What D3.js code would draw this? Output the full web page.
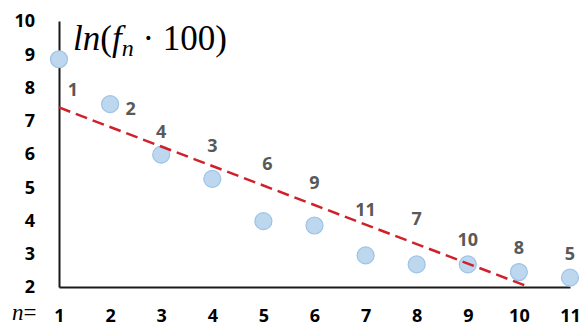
<!DOCTYPE html>
<html>
<head>
<meta charset="utf-8">
<script src="https://cdn.jsdelivr.net/npm/d3@7"></script>
<style>
  body { margin: 0; background: #fff; }
  svg { display: block; }
</style>
</head>
<body>
<script>
// data
var nValues = [1, 2, 3, 4, 5, 6, 7, 8, 9, 10, 11];
var lnValues = [8.85, 7.5, 5.98, 5.25, 3.98, 3.85, 2.95, 2.68, 2.68, 2.45, 2.28];
var rankLabels = ["1", "2", "4", "3", "6", "9", "11", "7", "10", "8", "5"];
var labelN = [1.27, 2.4, 3, 4, 5.08, 6, 7, 8, 9, 10, 11];
var labelLevel = [7.93, 7.37, 6.66, 6.24, 5.7, 5.14, 4.32, 4.06, 3.41, 3.17, 2.99];
var trendN = [1, 10.2];
var trendLn = [7.4, 2];
var yTicks = [2, 3, 4, 5, 6, 7, 8, 9, 10];

var width = 583, height = 326;

var svg = d3.select("body")
    .append("svg")
    .attr("width", width)
    .attr("height", height);

var x = d3.scaleLinear().domain([1, 11]).range([59, 570]);
var y = d3.scaleLinear().domain([2, 10]).range([287, 21]);

var tickFont = "'Open Sans', 'Liberation Sans', sans-serif";

// y axis
var yAxis = svg.append("g")
    .attr("transform", "translate(" + x(1) + ",0)")
    .call(d3.axisLeft(y).tickValues(yTicks).tickSize(0).tickPadding(24).tickFormat(d3.format("d")));
yAxis.select(".domain").attr("stroke", "#1a1a1a").attr("stroke-width", 2);
yAxis.selectAll("text")
    .attr("font-family", tickFont)
    .attr("font-weight", "bold")
    .attr("font-size", 18)
    .attr("fill", "#000");

// x axis
var xAxis = svg.append("g")
    .attr("transform", "translate(0," + y(2) + ")")
    .call(d3.axisBottom(x).tickValues(nValues).tickSize(0).tickPadding(22).tickFormat(d3.format("d")));
xAxis.select(".domain").attr("stroke", "#1a1a1a").attr("stroke-width", 2);
xAxis.selectAll("text")
    .attr("font-family", tickFont)
    .attr("font-weight", "bold")
    .attr("font-size", 18)
    .attr("fill", "#000");

// "n=" in front of the x ticks
var nEq = svg.append("text")
    .attr("x", 12)
    .attr("y", 320)
    .attr("font-family", "'Liberation Serif', serif")
    .attr("font-size", 23)
    .attr("fill", "#000");
nEq.append("tspan").attr("font-style", "italic").text("n");
nEq.append("tspan").text("=");

// title ln(f_n · 100)
var title = svg.append("text")
    .attr("x", 73)
    .attr("y", 50)
    .attr("font-family", "'Liberation Serif', serif")
    .attr("font-size", 35)
    .attr("fill", "#000");
title.append("tspan").attr("font-style", "italic").text("ln");
title.append("tspan").text("(");
title.append("tspan").attr("font-style", "italic").text("f");
title.append("tspan").attr("font-style", "italic").attr("font-size", 24).attr("dy", 6).text("n");
title.append("tspan").attr("dy", -6).text(" \u00B7 100)");

// points
svg.append("g").selectAll("circle")
    .data(nValues)
    .join("circle")
    .attr("cx", function (d) { return x(d); })
    .attr("cy", function (d, i) { return y(lnValues[i]); })
    .attr("r", 8.5)
    .attr("fill", "#bdd7ee")
    .attr("stroke", "#9dc3e6")
    .attr("stroke-width", 1.2);

// trend line
var trend = trendN.map(function (d, i) { return { n: d, v: trendLn[i] }; });
svg.append("path")
    .datum(trend)
    .attr("fill", "none")
    .attr("stroke", "#d0202a")
    .attr("stroke-width", 2.5)
    .attr("stroke-dasharray", "12,6")
    .attr("d", d3.line()
        .x(function (d) { return x(d.n); })
        .y(function (d) { return y(d.v); }));

// rank labels
svg.append("g").selectAll("text")
    .data(rankLabels)
    .join("text")
    .attr("x", function (d, i) { return x(labelN[i]); })
    .attr("y", function (d, i) { return y(labelLevel[i]); })
    .attr("dy", "0.35em")
    .attr("text-anchor", "middle")
    .attr("font-family", tickFont)
    .attr("font-weight", "bold")
    .attr("font-size", 18)
    .attr("fill", "#595959")
    .text(function (d) { return d; });
</script>
</body>
</html>
